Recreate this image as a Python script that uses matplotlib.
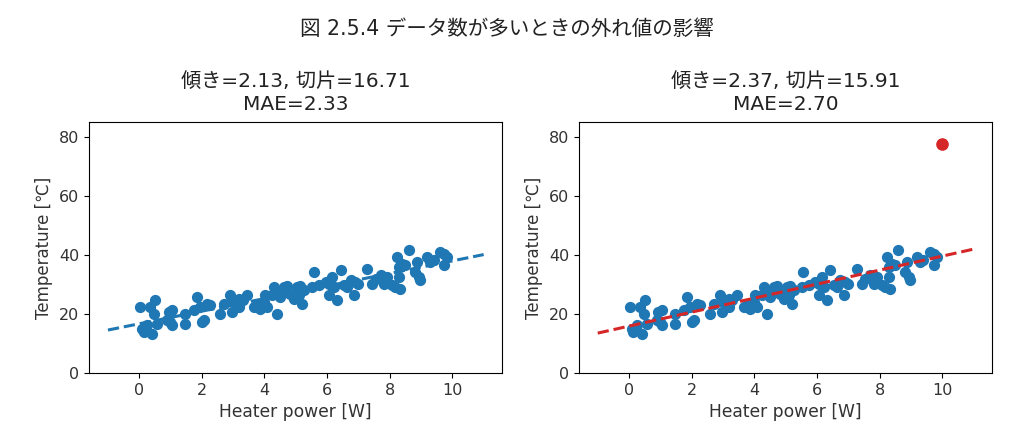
import numpy as np
import matplotlib
matplotlib.use("Agg")
import matplotlib.pyplot as plt

plt.rcParams['font.family'] = ['DejaVu Sans', 'Noto Sans CJK JP']

# heater power [W] and temperature [C]
power = [0.03, 0.09, 0.14, 0.25, 0.40, 0.35, 0.51, 0.48, 0.57, 0.94,
         1.04, 0.99, 1.04, 0.88, 1.47, 1.47, 1.84, 1.74, 1.95, 2.00,
         2.06, 2.16, 2.27, 2.59, 2.70, 2.91, 2.96, 3.00, 3.10, 3.20,
         3.44, 3.30, 3.18, 3.66, 3.76, 3.87, 3.98, 4.03, 4.08, 4.40,
         4.30, 4.24, 4.40, 4.50, 4.62, 4.72, 4.83, 4.94, 5.04, 5.10,
         5.15, 5.20, 5.26, 5.57, 5.52, 5.74, 5.95, 6.06, 6.06, 6.16,
         6.22, 6.32, 6.43, 6.54, 6.64, 6.75, 6.86, 6.90, 7.00, 7.28,
         7.44, 7.55, 7.71, 7.82, 7.92, 8.08, 8.18, 8.24, 8.29, 8.34,
         8.29, 8.40, 8.50, 8.60, 8.82, 8.88, 8.93, 8.98, 9.20, 9.30,
         9.40, 9.62, 9.73, 9.73, 9.84]
temp = [22.4, 15.0, 13.9, 16.2, 13.3, 22.4, 24.9, 20.1, 16.7, 20.7,
        21.3, 17.3, 16.2, 17.9, 20.1, 16.7, 25.8, 21.3, 22.4, 17.3,
        17.9, 23.5, 23.0, 20.1, 23.5, 26.4, 20.7, 24.1, 23.5, 25.2,
        26.4, 24.7, 22.4, 22.4, 23.0, 21.8, 24.1, 26.4, 22.4, 20.1,
        29.0, 26.4, 26.9, 25.8, 29.2, 29.4, 26.9, 25.2, 29.2, 26.4,
        29.4, 23.3, 28.1, 34.3, 29.2, 29.8, 30.9, 26.4, 30.3, 32.6,
        29.2, 24.7, 34.8, 29.8, 29.2, 31.5, 26.4, 30.9, 30.3, 35.4,
        30.3, 32.0, 33.1, 30.3, 32.6, 29.8, 29.2, 39.4, 36.0, 28.6,
        32.6, 37.1, 36.5, 41.6, 34.3, 37.7, 32.6, 31.5, 39.4, 37.7,
        38.2, 41.1, 40.5, 36.5, 39.4]

outlier_power = [10.0]
outlier_temp = [77.5]

fits = [(2.13, 16.71, 2.33), (2.37, 15.91, 2.70)]
line_colors = ['#1f77b4', '#d62728']

fig = plt.figure(figsize=(10.13, 4.41), dpi=100)
fig.suptitle('図 2.5.4 データ数が多いときの外れ値の影響', fontsize=14.8, y=0.958,
             color='#222222')

xs = np.array([-1, 11])
for i, (slope, intercept, mae) in enumerate(fits):
    ax = fig.add_axes([0.088 + i * 0.4835, 0.154, 0.408, 0.569])
    ax.scatter(power, temp, color='#1f77b4', s=50)
    if i == 1:
        ax.scatter(outlier_power, outlier_temp, color='#d62728', s=65)
    ax.plot(xs, slope * xs + intercept, '--', color=line_colors[i], lw=2.2)
    ax.set_ylim(0, 85)
    ax.set_xlabel('Heater power [W]', fontsize=12.3, color='#333333')
    ax.set_ylabel('Temperature [℃]', fontsize=12, color='#333333')
    ax.set_title(f'傾き={slope:.2f}, 切片={intercept:.2f}\nMAE={mae:.2f}',
                 fontsize=14.5, linespacing=1.25, color='#222222', pad=9)
    ax.tick_params(labelsize=11.5, labelcolor='#333333')

fig.savefig('out.png', dpi=100)
